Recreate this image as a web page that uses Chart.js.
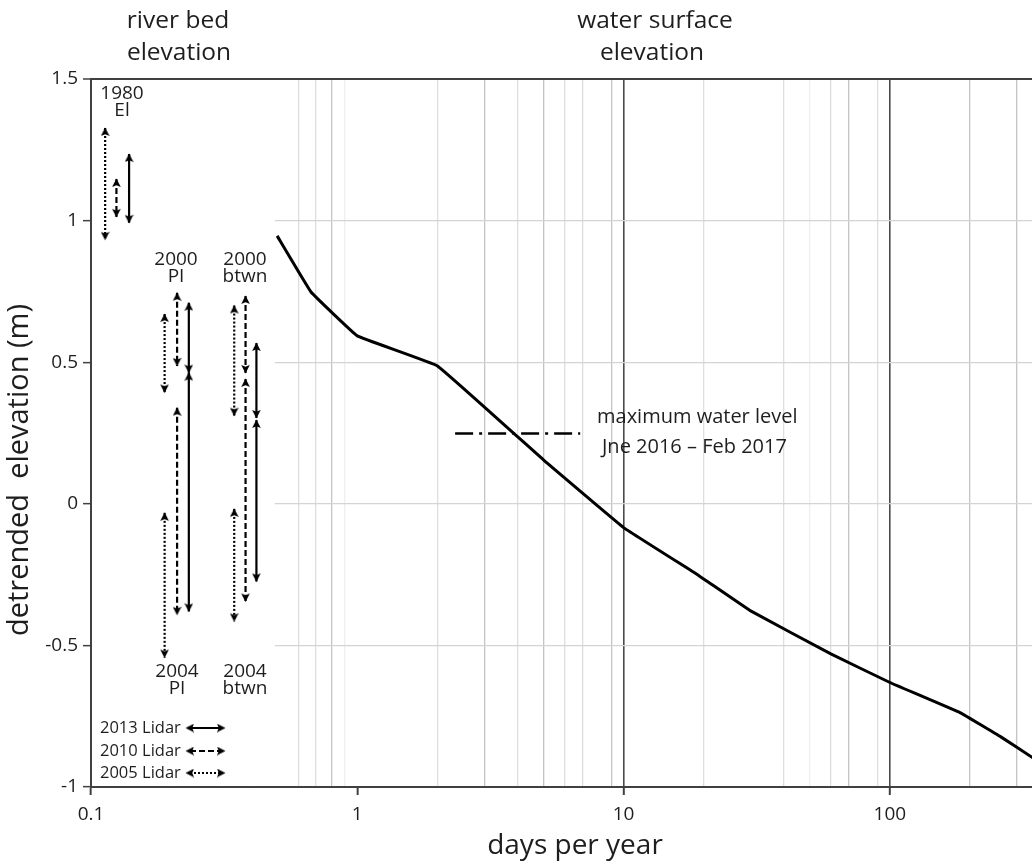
<!DOCTYPE html>
<html><head><meta charset="utf-8">
<script src="https://cdn.jsdelivr.net/npm/chart.js@4/dist/chart.umd.min.js"></script>
<style>html,body{margin:0;padding:0;background:#fff;overflow:hidden}#wrap{width:1032px;height:863px;position:relative;overflow:hidden}</style>
</head><body><div id="wrap"><canvas id="c" width="1040" height="863"></canvas></div>
<script>
// ---- water surface elevation (exceedance curve) ----
const curveDays = [0.5, 0.67, 1, 2, 5, 10, 19, 30, 60, 100, 184, 261, 344];
const curveElev = [0.946, 0.748, 0.593, 0.487, 0.155, -0.084, -0.251, -0.378, -0.53, -0.631, -0.738, -0.823, -0.897];

// ---- maximum water level Jne 2016 - Feb 2017 ----
const maxLevelDays = [2.33, 6.87];
const maxLevelElev = [0.248, 0.248];

// ---- river bed elevation ranges (order: 1980 El, 2000 PI, 2004 PI, 2000 btwn, 2004 btwn) ----
const bedGroups = ['1980 El', '2000 PI', '2004 PI', '2000 btwn', '2004 btwn'];
const lidar2005Days = [0.113, 0.189, 0.189, 0.345, 0.345];
const lidar2005Top = [1.327, 0.670, -0.032, 0.700, -0.018];
const lidar2005Bottom = [0.932, 0.393, -0.543, 0.311, -0.415];
const lidar2010Days = [0.1246, 0.2105, 0.2105, 0.3805, 0.3805];
const lidar2010Top = [1.147, 0.745, 0.339, 0.734, 0.441];
const lidar2010Bottom = [1.013, 0.487, -0.392, 0.462, -0.345];
const lidar2013Days = [0.139, 0.233, 0.233, 0.418, 0.418];
const lidar2013Top = [1.235, 0.710, 0.463, 0.568, 0.296];
const lidar2013Bottom = [0.992, 0.463, -0.380, 0.303, -0.274];

// ---- axes ----
const xGridDays = [0.1, 0.2, 0.3, 0.4, 0.6, 0.7, 0.8, 0.9, 1, 2, 3, 4, 5, 6, 7, 9, 10, 20, 40, 50, 60, 70, 90, 100, 200, 300];
const xTickLabels = [0.1, 1, 10, 100];
const yTicks = [-1, -0.5, 0, 0.5, 1, 1.5];

// ---- styles ----
const FONT = "'Open Sans', 'Noto Sans', sans-serif";
const TXT = '#1e1e1e';
const gridShade = {
  dark: [10, 100], medium: [0.8, 3, 5, 9, 70, 200, 300],
  light: [0.6, 0.7, 2, 4, 6, 7, 20, 40, 60, 90], faint: [0.2, 0.3, 0.4, 0.9, 50]
};
function gridColorFor(v) {
  if (gridShade.dark.includes(v)) return '#4a4a4a';
  if (gridShade.medium.includes(v)) return '#c4c4c4';
  if (gridShade.light.includes(v)) return '#dedede';
  if (gridShade.faint.includes(v)) return '#eeeeee';
  return 'rgba(0,0,0,0)';
}

function makeHead() {
  const c = document.createElement('canvas');
  c.width = 9; c.height = 20;
  const g = c.getContext('2d');
  g.fillStyle = '#000';
  g.beginPath(); g.moveTo(4.5, 9.5); g.lineTo(8.8, 18); g.lineTo(4.5, 16.2); g.lineTo(0.2, 18); g.closePath(); g.fill();
  return c;
}
const HEAD = makeHead();

const lineStyles = {
  '2013': { dash: [], width: 2.2 },
  '2010': { dash: [6, 3], width: 2.2 },
  '2005': { dash: [2, 2], width: 2.2 }
};
function arrowSets(days, tops, bottoms, key) {
  return days.map((d, i) => ({
    label: key + ' ' + bedGroups[i],
    data: [{ x: d, y: tops[i] }, { x: d, y: bottoms[i] }],
    showLine: true, borderColor: '#000', borderWidth: lineStyles[key].width,
    borderDash: lineStyles[key].dash, pointStyle: HEAD, pointRadius: 5,
    pointRotation: [0, 180], backgroundColor: '#000', clip: false
  }));
}

const datasets = [
  {
    label: 'water surface', data: curveDays.map((d, i) => ({ x: d, y: curveElev[i] })),
    showLine: true, borderColor: '#000', borderWidth: 3, pointRadius: 0, tension: 0.06
  },
  {
    label: 'maximum water level', data: maxLevelDays.map((d, i) => ({ x: d, y: maxLevelElev[i] })),
    showLine: true, borderColor: '#000', borderWidth: 2.5, borderDash: [18, 6, 3, 6], pointRadius: 0
  },
  ...arrowSets(lidar2005Days, lidar2005Top, lidar2005Bottom, '2005'),
  ...arrowSets(lidar2010Days, lidar2010Top, lidar2010Bottom, '2010'),
  ...arrowSets(lidar2013Days, lidar2013Top, lidar2013Bottom, '2013')
];

const maskPlugin = {
  id: 'mask',
  beforeDatasetsDraw(chart) {
    const { ctx, chartArea: a, scales } = chart;
    const right = scales.x.getPixelForValue(0.49);
    ctx.save(); ctx.fillStyle = '#fff';
    ctx.fillRect(a.left + 1.2, a.top + 1.2, right - a.left - 1.2, a.bottom - a.top - 2.4);
    ctx.restore();
  }
};

const textPlugin = {
  id: 'texts',
  afterDraw(chart) {
    const { ctx } = chart;
    ctx.save();
    ctx.fillStyle = TXT; ctx.textAlign = 'center'; ctx.textBaseline = 'middle';
    // headings
    ctx.font = `24.5px ${FONT}`;
    ctx.fillText('river bed', 178, 21); ctx.fillText('elevation', 179, 53);
    ctx.fillText('water surface', 655, 21); ctx.fillText('elevation', 652, 53);
    // axis titles
    ctx.font = `28px ${FONT}`;
    ctx.fillText('days per year', 575, 846);
    ctx.save(); ctx.translate(20, 470); ctx.rotate(-Math.PI / 2);
    ctx.font = `29px ${FONT}`;
    ctx.fillText('detrended  elevation (m)', 0, 0); ctx.restore();
    // group labels
    ctx.font = `19px ${FONT}`;
    const lab = (l1, l2, x, y) => { ctx.fillText(l1, x, y); ctx.fillText(l2, x, y + 17); };
    lab('1980', 'El', 122, 94);
    lab('2000', 'PI', 176, 260);
    lab('2000', 'btwn', 245, 260);
    lab('2004', 'PI', 177, 672);
    lab('2004', 'btwn', 245, 672);
    // max water level label
    ctx.textAlign = 'left'; ctx.font = `20px ${FONT}`;
    ctx.fillText('maximum water level', 597, 417);
    ctx.fillText('Jne 2016 \u2013 Feb 2017', 602, 447);
    // legend
    ctx.font = `16.5px ${FONT}`;
    const rows = [['2013 Lidar', '2013', 728], ['2010 Lidar', '2010', 751], ['2005 Lidar', '2005', 773]];
    rows.forEach(([t, k, y]) => {
      ctx.fillStyle = TXT; ctx.fillText(t, 100, y);
      ctx.strokeStyle = '#000'; ctx.lineWidth = 2; ctx.setLineDash(lineStyles[k].dash);
      ctx.beginPath(); ctx.moveTo(190, y); ctx.lineTo(220, y); ctx.stroke(); ctx.setLineDash([]);
      [[186, -90], [225, 90]].forEach(([hx, r]) => {
        ctx.save(); ctx.translate(hx, y); ctx.rotate(r * Math.PI / 180);
        ctx.drawImage(HEAD, -4.5, -10); ctx.restore();
      });
    });
    ctx.restore();
  }
};

new Chart(document.getElementById('c'), {
  type: 'scatter',
  data: { datasets },
  plugins: [maskPlugin, textPlugin],
  options: {
    responsive: false, animation: false, devicePixelRatio: 1,
    layout: { padding: { top: 79, left: 0, right: 0, bottom: 0 } },
    plugins: { legend: { display: false }, tooltip: { enabled: false } },
    scales: {
      x: {
        type: 'logarithmic', min: 0.1, max: 344,
        afterBuildTicks(s) { s.ticks = xGridDays.map(v => ({ value: v })); },
        ticks: {
          autoSkip: false, maxRotation: 0, padding: 8, color: TXT, font: { family: FONT, size: 19 },
          callback(v) { return xTickLabels.includes(v) ? String(v) : ''; }
        },
        grid: {
          color: c => gridColorFor(c.tick ? c.tick.value : null),
          lineWidth: c => (c.tick && gridShade.dark.includes(c.tick.value)) ? 1.6 : 1.3,
          tickColor: c => (c.tick && xTickLabels.includes(c.tick.value)) ? '#404040' : 'rgba(0,0,0,0)',
          tickWidth: 2, tickLength: 8
        },
        border: { color: '#404040', width: 2 },
        afterFit(s) { s.height = 76; }
      },
      y: {
        min: -1, max: 1.5,
        afterBuildTicks(s) { s.ticks = yTicks.map(v => ({ value: v })); },
        ticks: { padding: 5, color: TXT, font: { family: FONT, size: 19 }, callback: v => String(v) },
        grid: {
          color: c => { const v = c.tick ? c.tick.value : null; if (v === 1.5) return '#404040'; if (v === -1) return 'rgba(0,0,0,0)'; return '#d4d4d4'; },
          lineWidth: c => (c.tick && c.tick.value === 1.5) ? 2 : 1.3,
          tickColor: '#404040', tickWidth: 1.5, tickLength: 8
        },
        border: { color: '#404040', width: 2 },
        afterFit(s) { s.width = 91; }
      }
    }
  }
});
</script>
</body></html>
